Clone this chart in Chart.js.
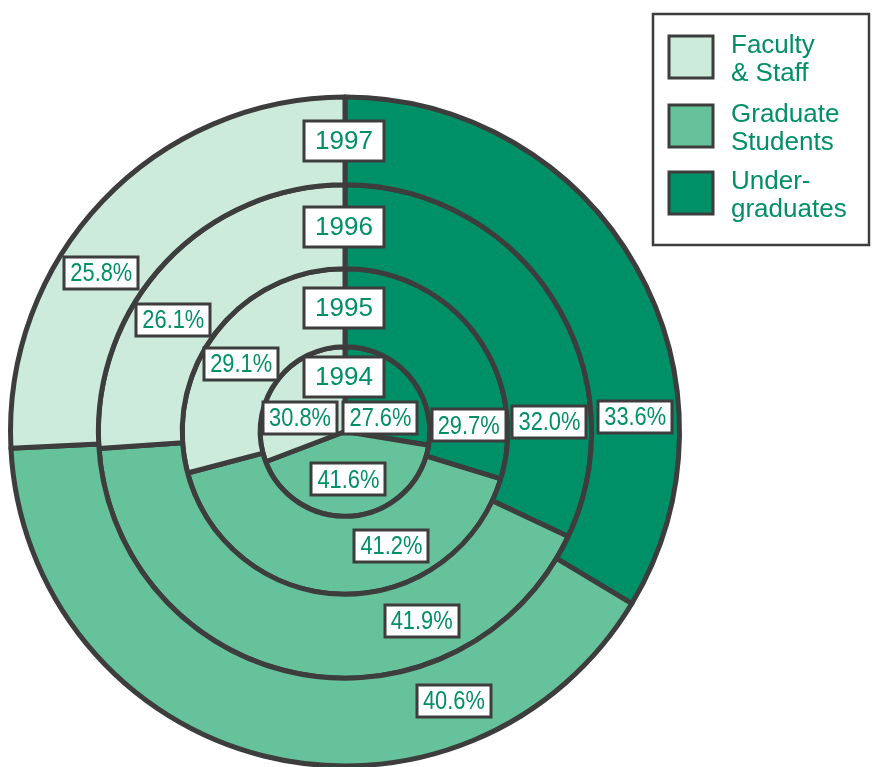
<!DOCTYPE html>
<html>
<head>
<meta charset="utf-8">
<script src="https://cdn.jsdelivr.net/npm/chart.js@4.4.1/dist/chart.umd.min.js"></script>
<style>
  html, body { margin: 0; padding: 0; background: #fff; overflow: hidden; }
  #wrap { position: absolute; left: 0; top: 0; width: 872px; height: 800px; }
</style>
</head>
<body>
<div id="wrap"><canvas id="chart" width="872" height="800"></canvas></div>
<script>
// years from the inner ring to the outer ring
const years = ['1994', '1995', '1996', '1997'];
const categories = ['Undergraduates', 'Graduate Students', 'Faculty & Staff'];
const undergrads = [27.6, 29.7, 32.0, 33.6];
const gradStudents = [41.6, 41.2, 41.9, 40.6];
const facultyStaff = [30.8, 29.1, 26.1, 25.8];
const legendText = [['Under-', 'graduates'], ['Graduate', 'Students'], ['Faculty', '& Staff']];

const COLORS = ['#009068', '#66c29a', '#cdebda'];
const INK = '#3d3d3d';
const TEXT = '#008f66';
const FONT = '"Liberation Sans", Arial, Helvetica, sans-serif';

// ring thickness, innermost (pie) first
const RING_WEIGHTS = [85, 78, 84, 88];

// where the % boxes sit: angle (deg, canvas) per category, inner pie handled separately
const LABEL_DIR = [-2.8, 68, -147];
const INNER_LABEL = [{ a: -21, r: 38 }, { a: 86, r: 48 }, { a: -163, r: 47 }];

function drawBox(ctx, text, x, y, opts) {
  ctx.save();
  ctx.font = opts.font;
  const tw = ctx.measureText(text).width * opts.scaleX;
  const w = Math.round(tw + opts.padX * 2);
  const h = opts.h;
  const left = Math.round(x - w / 2), top = Math.round(y - h / 2);
  ctx.fillStyle = '#fff';
  ctx.fillRect(left, top, w, h);
  ctx.strokeStyle = INK;
  ctx.lineWidth = 3;
  ctx.strokeRect(left, top, w, h);
  ctx.fillStyle = TEXT;
  ctx.textAlign = 'center';
  ctx.textBaseline = 'middle';
  ctx.translate(x, y + 1);
  ctx.scale(opts.scaleX, 1);
  ctx.fillText(text, 0, 0);
  ctx.restore();
}

const ringLabels = {
  id: 'ringLabels',
  afterDatasetsDraw(chart) {
    const ctx = chart.ctx;
    const n = chart.data.datasets.length;
    chart.data.datasets.forEach((ds, di) => {
      const meta = chart.getDatasetMeta(di);
      const arcs = meta.data;
      if (!arcs.length) return;
      const ringIdx = n - 1 - di; // 0 = innermost
      const { x: cx, y: cy, innerRadius, outerRadius } = arcs[0].getProps(['x', 'y', 'innerRadius', 'outerRadius']);
      const rMid = ringIdx === 0 ? 55 : (innerRadius + outerRadius) / 2;

      arcs.forEach((arc, i) => {
        let a, r;
        if (ringIdx === 0) { a = INNER_LABEL[i].a; r = INNER_LABEL[i].r; }
        else { a = LABEL_DIR[i]; r = (innerRadius + outerRadius) / 2; }
        const rad = a * Math.PI / 180;
        const txt = ds.data[i].toFixed(1) + '%';
        drawBox(ctx, txt, cx + r * Math.cos(rad), cy + r * Math.sin(rad),
          { font: '26px ' + FONT, scaleX: 0.84, padX: 6, h: 32 });
      });

      drawBox(ctx, ds.label, cx - 1, cy - rMid,
        { font: '26px ' + FONT, scaleX: 1, padX: 11, h: 40 });
    });
  }
};

const boxLegend = {
  id: 'boxLegend',
  afterDraw(chart) {
    const ctx = chart.ctx;
    ctx.save();
    ctx.strokeStyle = INK;
    ctx.lineWidth = 2.5;
    ctx.strokeRect(653, 14, 216, 231);
    const tops = [36, 105, 172];
    // legend lists categories bottom-up: faculty first
    [2, 1, 0].forEach((ci, k) => {
      const t = tops[k];
      ctx.fillStyle = COLORS[ci];
      ctx.fillRect(669, t, 44, 42);
      ctx.lineWidth = 3;
      ctx.strokeRect(669, t, 44, 42);
      ctx.fillStyle = TEXT;
      ctx.font = '26px ' + FONT;
      ctx.textAlign = 'left';
      ctx.textBaseline = 'alphabetic';
      legendText[ci].forEach((line, li) => ctx.fillText(line, 731, t + 17 + li * 28));
    });
    ctx.restore();
  }
};

const ctx = document.getElementById('chart').getContext('2d');
new Chart(ctx, {
  type: 'pie',
  data: {
    labels: categories,
    datasets: years.map((y, i) => ({
      label: y,
      data: [undergrads[i], gradStudents[i], facultyStaff[i]],
      backgroundColor: COLORS,
      borderColor: INK,
      borderWidth: 5,
      borderJoinStyle: 'round',
      weight: RING_WEIGHTS[i]
    })).reverse()
  },
  options: {
    responsive: false,
    animation: false,
    events: [],
    layout: { padding: { left: 8, top: 94, right: 190, bottom: 31 } },
    plugins: {
      legend: { display: false },
      tooltip: { enabled: false }
    }
  },
  plugins: [ringLabels, boxLegend]
});
</script>
</body>
</html>
